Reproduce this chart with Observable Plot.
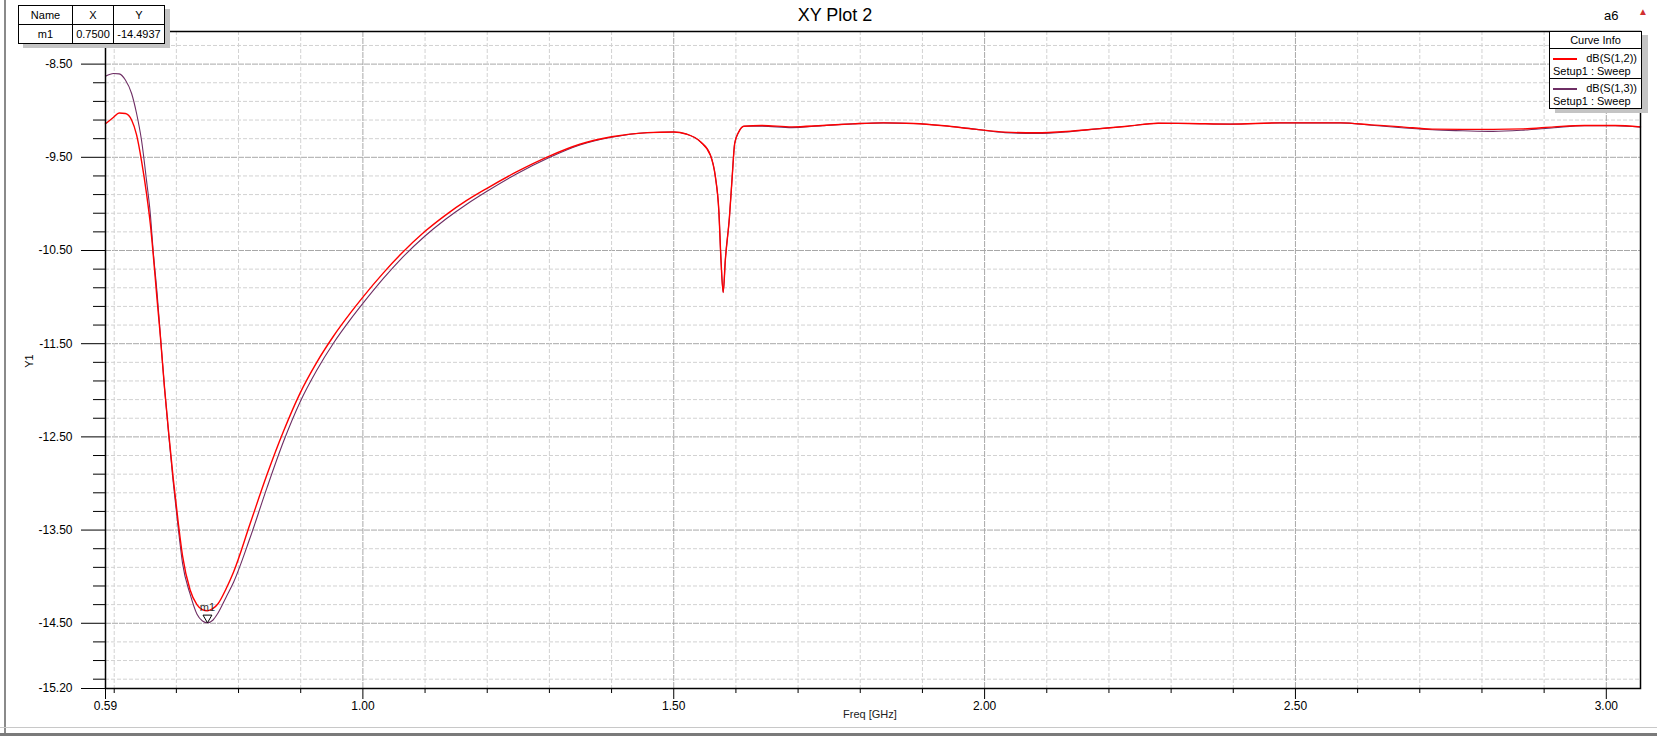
<!DOCTYPE html>
<html><head><meta charset="utf-8">
<script src="https://cdn.jsdelivr.net/npm/d3@7"></script>
<script src="https://cdn.jsdelivr.net/npm/@observablehq/plot@0.6"></script>
<style>
body{margin:0;background:#fff;font-family:"Liberation Sans",Arial,sans-serif;color:#000;}
#wrap{position:relative;width:1657px;height:739px;overflow:hidden;background:#fff;}
#chart{position:absolute;left:0;top:0;}
.abs{position:absolute;white-space:nowrap;}
#title{left:0;width:1670px;top:5px;text-align:center;font-size:18px;}
#a6{left:1604px;top:8px;font-size:13px;}
#warn{left:1638px;top:6px;font-size:10px;color:#d03030;}
#ylab{left:22px;top:355px;font-size:11px;transform:rotate(-90deg);transform-origin:center;}
#xlab{left:843px;top:708px;font-size:11px;color:#222;}
table.mk{position:absolute;left:18px;top:5px;border-collapse:collapse;background:#fff;font-size:11px;box-shadow:5px 4px 0 #c4c4c4;}
table.mk td{border:1px solid #000;text-align:center;padding:0;height:18px;}
#legend{position:absolute;left:1549px;top:31px;width:91px;height:76px;border:1px solid #000;background:#fff;font-size:11px;box-shadow:6px 4px 0 #c4c4c4;}
#legend .hd{height:16px;border-bottom:1px solid #000;text-align:center;line-height:16px;}
#legend .ent{position:relative;height:29px;}
#legend .ent + .ent{border-top:1px solid #000;}
#legend .sw{position:absolute;left:3px;top:9px;width:24px;height:2px;}
#legend .nm{position:absolute;right:4px;top:3px;}
#legend .su{position:absolute;left:3px;top:16px;}
#frameL{left:4px;top:0;width:2px;height:733px;background:#8a8a8a;}
#frameB1{left:0;top:727px;width:1657px;height:1px;background:#c8c8c8;}
#frameB2{left:0;top:733px;width:1657px;height:3px;background:#7a7a7a;}
</style></head><body>
<div id="wrap">
<div id="chart"></div>
<div class="abs" id="frameL"></div>
<div class="abs" id="frameB1"></div>
<div class="abs" id="frameB2"></div>
<div class="abs" id="title"></div>
<div class="abs" id="a6">a6</div>
<div class="abs" id="warn">▲</div>
<div class="abs" id="ylab">Y1</div>
<div class="abs" id="xlab">Freq [GHz]</div>
<table class="mk" id="mk"></table>
<div id="legend"></div>
</div>
<script>
// ---- data ----
const freq = [0.586,0.599,0.608,0.618,0.628,0.636,0.644,0.652,0.658,0.663,0.669,0.674,0.681,0.688,0.695,0.703,0.710,0.722,0.733,0.742,0.750,0.759,0.767,
  0.780,0.792,0.8187,0.8455,0.8723,0.899,0.9258,0.9526,0.9794,1.000,1.033,1.060,1.0995,1.133,1.167,1.199,1.247,1.299,1.349,1.400,1.457,1.500,1.520,
  1.543,1.559,1.567,1.5725,1.576,1.5795,1.583,1.5896,1.594,1.598,1.6046,1.6126,1.641,1.690,1.739,1.788,1.837,1.886,1.935,1.984,2.033,2.083,2.132,2.181,2.230,2.279,2.328,2.396,2.475,2.573,2.622,2.671,2.720,2.769,2.818,2.867,2.916,2.965,3.014,3.055];
const s12 = [-9.14,-9.07,-9.025,-9.03,-9.10,-9.26,-9.54,-9.89,-10.21,-10.56,-11.03,-11.40,-11.98,-12.48,-12.95,-13.42,-13.78,-14.14,-14.30,-14.355,-14.365,-14.34,-14.29,
  -14.13,-13.95,-13.43,-12.91,-12.44,-12.03,-11.70,-11.42,-11.175,-11.00,-10.74,-10.546,-10.297,-10.12,-9.963,-9.835,-9.657,-9.49,-9.36,-9.28,-9.235,-9.228,-9.25,
  -9.334,-9.477,-9.71,-10.07,-10.60,-10.95,-10.60,-10.14,-9.71,-9.352,-9.227,-9.166,-9.158,-9.173,-9.158,-9.141,-9.130,-9.137,-9.162,-9.198,-9.230,-9.237,-9.223,-9.195,-9.166,-9.134,-9.137,-9.144,-9.130,-9.130,-9.152,-9.173,-9.198,-9.200,-9.200,-9.195,-9.173,-9.158,-9.158,-9.173];
const s13 = [-8.63,-8.60,-8.605,-8.67,-8.815,-9.03,-9.32,-9.75,-10.10,-10.53,-10.96,-11.39,-11.98,-12.50,-12.99,-13.48,-13.86,-14.185,-14.40,-14.475,-14.4937,-14.465,-14.39,
  -14.22,-14.06,-13.58,-13.05,-12.55,-12.125,-11.785,-11.495,-11.245,-11.068,-10.80,-10.60,-10.347,-10.165,-10.003,-9.867,-9.679,-9.505,-9.368,-9.285,-9.236,-9.228,-9.25,
  -9.334,-9.477,-9.71,-10.07,-10.60,-10.95,-10.60,-10.14,-9.71,-9.352,-9.227,-9.166,-9.165,-9.182,-9.160,-9.141,-9.130,-9.137,-9.162,-9.198,-9.235,-9.245,-9.228,-9.195,-9.166,-9.134,-9.137,-9.144,-9.130,-9.130,-9.156,-9.182,-9.205,-9.215,-9.222,-9.208,-9.182,-9.160,-9.162,-9.176];
const seriesNames = ["dB(S(1,2))","dB(S(1,3))"];
const seriesColors = ["#ff0000","#6e2e64"];
const yMajor = [-8.5,-9.5,-10.5,-11.5,-12.5,-13.5,-14.5,-15.2];
const yLabels = ["-8.50","-9.50","-10.50","-11.50","-12.50","-13.50","-14.50","-15.20"];
const xMajor = [0.586,1.0,1.5,2.0,2.5,3.0];
const xLabels = ["0.59","1.00","1.50","2.00","2.50","3.00"];
const marker = {name:"m1", x:0.75, y:-14.4937, xText:"0.7500", yText:"-14.4937"};
const titleText = "XY Plot 2";
const setupText = "Setup1 : Sweep";

// ---- build ----
document.getElementById("title").textContent = titleText;
const rows12 = freq.map((f,i)=>({f, v:s12[i]}));
const rows13 = freq.map((f,i)=>({f, v:s13[i]}));

const yGridMinor = d3.range(0,35).map(k => +(-8.3 - 0.2*k).toFixed(2)).filter(v => v > -15.2 && !yMajor.includes(v));
const yGridMajor = yMajor.filter(v => v > -15.2);
const xGridAll = d3.range(6,31).map(k => +(k/10).toFixed(1));
const xGridMajor = [1.0,1.5,2.0,2.5,3.0];
const xGridMinor = xGridAll.filter(v => !xGridMajor.includes(v));
const yLab = new Map(yMajor.map((v,i)=>[v,yLabels[i]]));
const xLab = new Map(xMajor.map((v,i)=>[v,xLabels[i]]));

const chart = Plot.plot({
  width:1657, height:739,
  marginTop:31, marginLeft:105, marginRight:17, marginBottom:51,
  x:{domain:[0.586,3.055], label:null},
  y:{domain:[-15.2,-8.15], label:null},
  style:{fontFamily:'"Liberation Sans", Arial, sans-serif', fontSize:"12px", background:"transparent", color:"#000", overflow:"visible"},
  marks:[
    Plot.gridY({ticks:yGridMinor, stroke:"#d2d2d2", strokeOpacity:1, strokeDasharray:"4,2"}),
    Plot.gridY({ticks:yGridMajor, stroke:"#a8a8a8", strokeOpacity:1, strokeDasharray:"6,1"}),
    Plot.gridX({ticks:xGridMinor, stroke:"#d2d2d2", strokeOpacity:1, strokeDasharray:"4,2"}),
    Plot.gridX({ticks:xGridMajor, stroke:"#a8a8a8", strokeOpacity:1, strokeDasharray:"6,1"}),
    Plot.line(rows13, {x:"f", y:"v", stroke:seriesColors[1], curve:"monotone-x", strokeWidth:1.1}),
    Plot.line(rows12, {x:"f", y:"v", stroke:seriesColors[0], curve:"monotone-x", strokeWidth:1.4}),
    Plot.frame({stroke:"#000", strokeWidth:1.5}),
    Plot.axisY({ticks:yGridMinor, tickSize:12, tickFormat:()=>"", label:null}),
    Plot.axisY({ticks:yMajor, tickSize:24, tickPadding:9, tickFormat:d=>yLab.get(d), label:null, fontSize:12}),
    Plot.axisX({ticks:xGridMinor, tickSize:5, tickFormat:()=>"", label:null}),
    Plot.axisX({ticks:xMajor, tickSize:11, tickPadding:2, tickFormat:d=>xLab.get(d), label:null, fontSize:12}),
    Plot.dot([marker], {x:"x", y:"y", symbol:"triangle", rotate:180, r:3.3, stroke:"#000", fill:"#fff", strokeWidth:1, dy:-5}),
    Plot.text([marker], {x:"x", y:"y", text:"name", dy:-15, fontSize:11, fill:"#333"})
  ]
});
document.getElementById("chart").appendChild(chart);

// marker table
const mk = document.getElementById("mk");
mk.innerHTML = `<tr><td style="width:53px">Name</td><td style="width:40px">X</td><td style="width:50px">Y</td></tr>
<tr><td>${marker.name}</td><td>${marker.xText}</td><td>${marker.yText}</td></tr>`;

// legend
const lg = document.getElementById("legend");
let html = `<div class="hd">Curve Info</div>`;
seriesNames.forEach((n,i)=>{
  html += `<div class="ent"><div class="sw" style="background:${seriesColors[i]}"></div><div class="nm">${n}</div><div class="su">${setupText}</div></div>`;
});
lg.innerHTML = html;
</script>
</body></html>
